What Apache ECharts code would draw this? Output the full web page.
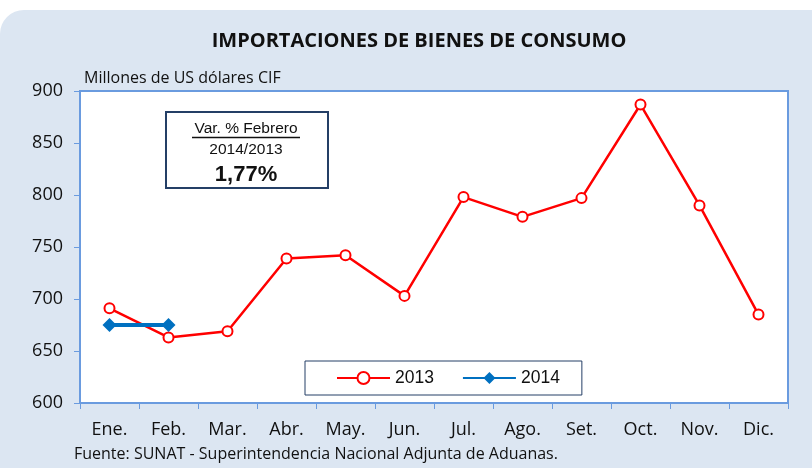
<!DOCTYPE html>
<html>
<head>
<meta charset="utf-8">
<script src="https://cdn.jsdelivr.net/npm/echarts@6/dist/echarts.min.js"></script>
<style>
  html, body { margin: 0; padding: 0; background: #fff; }
  #chart { width: 812px; height: 468px; }
</style>
</head>
<body>
<div id="chart"></div>
<script>
const months = ["Ene.", "Feb.", "Mar.", "Abr.", "May.", "Jun.", "Jul.", "Ago.", "Set.", "Oct.", "Nov.", "Dic."];
const values2013 = [691, 663, 669, 739, 742, 703, 798, 779, 797, 887, 790, 685];
const values2014 = [675, 675];

const axisBlue = "#6A9BDF";
const boxNavy = "#243F66";
const sansFont = "'Open Sans', sans-serif";
const arialFont = "'Liberation Sans', Arial, sans-serif";

const chart = echarts.init(document.getElementById("chart"));

chart.setOption({
    animation: false,
    graphic: [
        {
            type: "rect", z: -10, silent: true,
            shape: { x: 0, y: 10, width: 840, height: 480, r: 24 },
            style: { fill: "#DCE6F2" }
        },
        {
            type: "text", x: 419, y: 41,
            style: { text: "IMPORTACIONES DE BIENES DE CONSUMO", font: "bold 20px " + sansFont, fill: "#111", align: "center", verticalAlign: "middle" }
        },
        {
            type: "text", x: 84, y: 78,
            style: { text: "Millones de US dólares CIF", font: "16px " + sansFont, fill: "#111", verticalAlign: "middle" }
        },
        {
            type: "rect", z: 20,
            shape: { x: 166, y: 112, width: 162, height: 76 },
            style: { fill: "#fff", stroke: boxNavy, lineWidth: 2 }
        },
        {
            type: "text", z: 21, x: 246, y: 129,
            style: { text: "Var. % Febrero", font: "15.5px " + arialFont, fill: "#111", align: "center", verticalAlign: "middle" }
        },
        {
            type: "line", z: 21,
            shape: { x1: 192, y1: 137.5, x2: 300, y2: 137.5 },
            style: { stroke: "#111", lineWidth: 1.3 }
        },
        {
            type: "text", z: 21, x: 246, y: 150,
            style: { text: "2014/2013", font: "15.5px " + arialFont, fill: "#111", align: "center", verticalAlign: "middle" }
        },
        {
            type: "text", z: 21, x: 246, y: 175,
            style: { text: "1,77%", font: "bold 22px " + arialFont, fill: "#111", align: "center", verticalAlign: "middle" }
        },
        {
            type: "text", x: 74, y: 454,
            style: { text: "Fuente: SUNAT - Superintendencia Nacional Adjunta de Aduanas.", font: "16px " + sansFont, fill: "#111", verticalAlign: "middle" }
        }
    ],
    grid: {
        left: 80, right: 24, top: 91, bottom: 65,
        show: true, backgroundColor: "#fff", borderColor: axisBlue, borderWidth: 2
    },
    legend: {
        left: 305, top: 361,
        padding: [8, 22, 8, 31],
        backgroundColor: "#fff", borderColor: boxNavy, borderWidth: 1,
        itemWidth: 53, itemHeight: 15, itemGap: 28,
        textStyle: { fontSize: 17.5, fontFamily: arialFont, color: "#111" },
        data: ["2013", "2014"]
    },
    xAxis: {
        type: "category",
        data: months,
        boundaryGap: true,
        axisLine: { lineStyle: { color: axisBlue, width: 2 } },
        axisTick: { show: true, length: 6, lineStyle: { color: axisBlue } },
        axisLabel: { color: "#111", fontSize: 18, fontFamily: sansFont, margin: 18 }
    },
    yAxis: {
        type: "value",
        min: 600, max: 900, interval: 50,
        splitLine: { show: false },
        axisLine: { show: true, lineStyle: { color: axisBlue, width: 2 } },
        axisTick: { show: true, length: 6, lineStyle: { color: axisBlue } },
        axisLabel: { color: "#111", fontSize: 18, fontFamily: sansFont, margin: 17 }
    },
    series: [
        {
            name: "2013", type: "line", data: values2013,
            color: "#FF0000",
            lineStyle: { width: 2.5, color: "#FF0000" },
            symbol: "circle", symbolSize: 10,
            itemStyle: { color: "#fff", borderColor: "#FF0000", borderWidth: 2 }
        },
        {
            name: "2014", type: "line", data: values2014,
            color: "#0070C0",
            lineStyle: { width: 4, color: "#0070C0" },
            symbol: "diamond", symbolSize: 14,
            itemStyle: { color: "#0070C0" }
        }
    ]
});
</script>
</body>
</html>
